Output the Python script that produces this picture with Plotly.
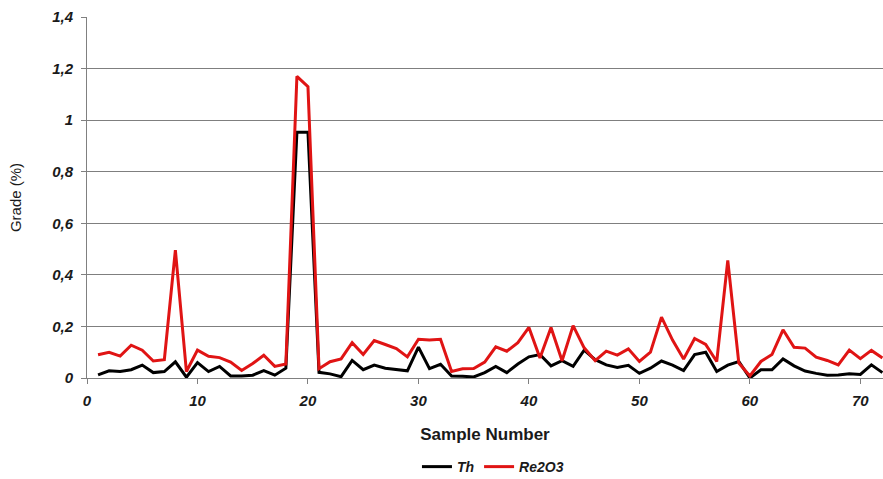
import plotly.graph_objects as go

sample = list(range(1, 73))

th = [0.012, 0.028, 0.025, 0.032, 0.05, 0.021, 0.025, 0.063, 0.003, 0.06,
      0.025, 0.045, 0.008, 0.008, 0.011, 0.029, 0.011, 0.038, 0.953, 0.953,
      0.022, 0.016, 0.005, 0.068, 0.032, 0.05, 0.038, 0.032, 0.028, 0.12,
      0.036, 0.053, 0.008, 0.007, 0.004, 0.021, 0.045, 0.021, 0.054, 0.082,
      0.091, 0.047, 0.067, 0.045, 0.108, 0.071, 0.051, 0.041, 0.049, 0.018,
      0.038, 0.066, 0.05, 0.029, 0.091, 0.1, 0.025, 0.05, 0.064, 0.0,
      0.032, 0.032, 0.074, 0.047, 0.027, 0.018, 0.011, 0.012, 0.016, 0.014,
      0.051, 0.021]

re2o3 = [0.09, 0.10, 0.085, 0.127, 0.108, 0.066, 0.071, 0.496, 0.025, 0.108,
         0.084, 0.079, 0.062, 0.029, 0.056, 0.088, 0.045, 0.054, 1.17, 1.13,
         0.036, 0.063, 0.074, 0.137, 0.091, 0.145, 0.13, 0.114, 0.082, 0.15,
         0.147, 0.15, 0.025, 0.036, 0.037, 0.062, 0.121, 0.104, 0.137, 0.196,
         0.078, 0.196, 0.067, 0.203, 0.117, 0.067, 0.104, 0.089, 0.113, 0.064,
         0.1, 0.236, 0.147, 0.074, 0.153, 0.13, 0.064, 0.456, 0.058, 0.008,
         0.064, 0.091, 0.187, 0.119, 0.116, 0.081, 0.068, 0.051, 0.108, 0.075,
         0.107, 0.078]

x_ticks = [0, 10, 20, 30, 40, 50, 60, 70]
y_ticks = [0, 0.2, 0.4, 0.6, 0.8, 1.0, 1.2, 1.4]

FONT = "Arial, Liberation Sans, sans-serif"

fig = go.Figure()
fig.add_trace(go.Scatter(x=sample, y=th, mode="lines", name="<b><i>Th</i></b>",
                         line=dict(color="#000000", width=3)))
fig.add_trace(go.Scatter(x=sample, y=re2o3, mode="lines", name="<b><i>Re2O3</i></b>",
                         line=dict(color="#e01414", width=3)))

fig.update_layout(
    width=883, height=479,
    margin=dict(l=87, r=0, t=17, b=101),
    paper_bgcolor="white", plot_bgcolor="white",
    separators=", ",
    font=dict(family=FONT, color="#1a1a1a"),
    showlegend=True,
    legend=dict(orientation="h", x=0.51, xanchor="center",
                yref="container", y=0.025, yanchor="middle",
                font=dict(size=14, family=FONT, color="#1a1a1a"),
                itemwidth=30, tracegroupgap=0, borderwidth=0),
    xaxis=dict(range=[0, 72.05], tickvals=x_ticks, ticks="outside", ticklen=5,
               tickcolor="#808080", showline=True, linecolor="#808080", linewidth=1,
               showgrid=False, zeroline=False, automargin=False, ticklabelstandoff=4,
               tickfont=dict(size=15, family=FONT, weight="bold", style="italic", color="#1a1a1a"),
               title=dict(text="<b>Sample Number</b>", font=dict(size=17, family=FONT, color="#1a1a1a"),
                          standoff=20)),
    yaxis=dict(range=[0, 1.4], tickvals=y_ticks, ticks="outside", ticklen=5,
               tickcolor="#808080", showline=True, linecolor="#808080", linewidth=1,
               showgrid=True, gridcolor="#7f7f7f", gridwidth=1, zeroline=False,
               automargin=False, ticklabelstandoff=5,
               tickfont=dict(size=15, family=FONT, weight="bold", style="italic", color="#1a1a1a"),
               title=dict(text="Grade (%)", font=dict(size=15, family=FONT, color="#1a1a1a"),
                          standoff=26)),
)

fig.write_html("out.html", config={"displayModeBar": False},
               post_script="document.body.style.margin='0';document.body.style.overflow='hidden';")
